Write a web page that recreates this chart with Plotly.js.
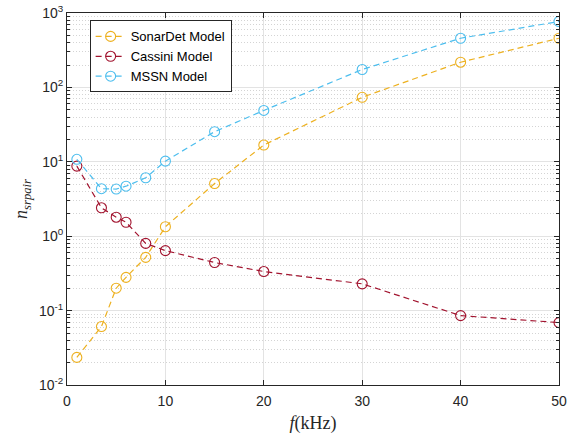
<!DOCTYPE html>
<html>
<head>
<meta charset="utf-8">
<script src="https://cdn.plot.ly/plotly-3.0.1.min.js"></script>
<style>html,body{margin:0;padding:0;background:#fff;}#chart{width:577px;height:437px;}</style>
</head>
<body>
<div id="chart"></div>
<script>
const freq = [1, 3.5, 5, 6, 8, 10, 15, 20, 30, 40, 50];
const sonarDet = [0.0235, 0.061, 0.20, 0.28, 0.52, 1.34, 5.1, 16.8, 73.6, 218, 458];
const cassini = [8.75, 2.41, 1.8, 1.54, 0.80, 0.64, 0.443, 0.335, 0.229, 0.0857, 0.069];
const mssn = [10.8, 4.35, 4.3, 4.7, 6.1, 10.2, 25.4, 49, 174, 458, 769];
const seriesNames = ['SonarDet Model', 'Cassini Model', 'MSSN Model'];
const xTicks = [0, 10, 20, 30, 40, 50];
const yTickVals = [0.01, 0.1, 1, 10, 100, 1000];
const yTickText = ['10<sup>-2</sup>', '10<sup>-1</sup>', '10<sup>0</sup>', '10<sup>1</sup>', '10<sup>2</sup>', '10<sup>3</sup>'];

const colors = ['#EDB120', '#A2142F', '#4DBEEE'];
const data = [sonarDet, cassini, mssn];
const traces = data.map((ys, i) => ({
  x: freq, y: ys, name: seriesNames[i], type: 'scatter', mode: 'lines+markers',
  line: {color: colors[i], width: 1.2, dash: '6px,4px'},
  marker: {symbol: 'circle-open', size: 10, color: colors[i], line: {width: 1.1, color: colors[i]}}
}));

const axisCol = '#262626';
const layout = {
  width: 577, height: 437,
  margin: {l: 67, r: 18, t: 13, b: 52},
  paper_bgcolor: '#fff', plot_bgcolor: '#fff',
  font: {family: 'Liberation Sans, Arial, sans-serif', size: 14, color: axisCol},
  showlegend: true,
  legend: {x: 0.046, y: 0.98, xanchor: 'left', yanchor: 'top', bgcolor: '#fff',
    bordercolor: axisCol, borderwidth: 1, font: {size: 13, color: '#000'}, tracegroupgap: 0},
  xaxis: {
    range: [0, 50], tickmode: 'array', tickvals: xTicks,
    showline: true, linecolor: axisCol, linewidth: 1, mirror: 'ticks',
    ticks: 'inside', ticklen: 5, tickcolor: axisCol, ticklabelstandoff: 3,
    showgrid: true, gridcolor: '#e3e3e3', gridwidth: 1, zeroline: false,
    title: {text: '<i>f</i>(kHz)', font: {family: 'Liberation Serif, DejaVu Serif, serif', size: 18, color: axisCol}, standoff: 8}
  },
  yaxis: {
    type: 'log', range: [-2, 3], tickmode: 'array', tickvals: yTickVals, ticktext: yTickText,
    showline: true, linecolor: axisCol, linewidth: 1, mirror: 'ticks',
    ticks: 'inside', ticklen: 5, tickcolor: axisCol,
    showgrid: true, gridcolor: '#e3e3e3', gridwidth: 1, zeroline: false,
    minor: {dtick: 'D1', showgrid: true, gridcolor: '#d4d4d4', griddash: '1px,2px', gridwidth: 1,
      ticks: 'inside', ticklen: 3, tickcolor: axisCol},
    title: {text: '<i>n</i><sub><i>srpair</i></sub>', font: {family: 'Liberation Serif, DejaVu Serif, serif', size: 18, color: axisCol}, standoff: 6}
  }
};
Plotly.newPlot('chart', traces, layout, {displayModeBar: false, staticPlot: true});
</script>
</body>
</html>
